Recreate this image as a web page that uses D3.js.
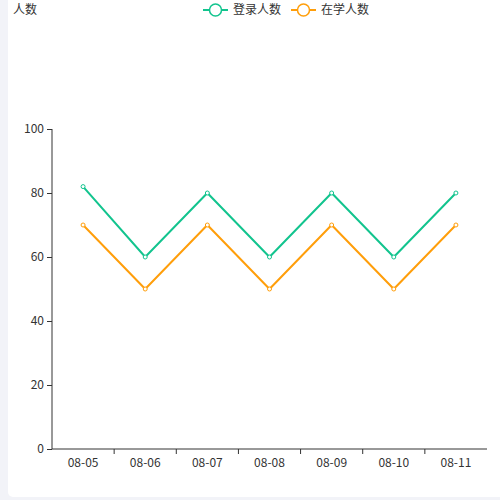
<!DOCTYPE html>
<html>
<head>
<meta charset="utf-8">
<script src="https://cdn.jsdelivr.net/npm/d3@7"></script>
<style>
  html, body { margin: 0; padding: 0; background: #f2f3f8; }
  #card { position: absolute; left: 8px; top: 0; width: 492px; height: 497px; background: #fff; border-radius: 0 0 0 5px; }
  svg { position: absolute; left: 0; top: 0; }
  text { font-family: "Noto Sans CJK SC", "Microsoft YaHei", sans-serif; }
</style>
</head>
<body>
<div id="card"></div>
<svg id="chart" width="500" height="500"></svg>
<script>
// data
const days = ['08-05', '08-06', '08-07', '08-08', '08-09', '08-10', '08-11'];
const loginCounts = [82, 60, 80, 60, 80, 60, 80];
const studyCounts = [70, 50, 70, 50, 70, 50, 70];
const seriesNames = ['登录人数', '在学人数'];
const seriesColors = ['#12c48e', '#ff9e0a'];
const yTicks = [0, 20, 40, 60, 80, 100];

const svg = d3.select('#chart');

// dimension stuff
const marginLeft = 52;
const marginRight = 13;
const marginTop = 129;
const marginBottom = 51;
const width = 500 - marginLeft - marginRight;
const height = 500 - marginTop - marginBottom;

// scales
const scaleX = d3.scaleBand().domain(days).range([0, width]);
const scaleY = d3.scaleLinear().domain([0, 100]).range([height, 0]);

const $g = svg.append('g')
  .attr('transform', `translate(${marginLeft}, ${marginTop})`);

// y axis
const yAxis = $g.append('g')
  .call(d3.axisLeft(scaleY).tickValues(yTicks).tickSize(5).tickPadding(3));
yAxis.select('.domain').attr('stroke', '#333').attr('d', `M0,${height}V0`);
yAxis.selectAll('.tick line').attr('stroke', '#333');
yAxis.selectAll('.tick text').attr('fill', '#333').style('font-size', '12px');

// x axis
const xAxis = $g.append('g')
  .attr('transform', `translate(0, ${height})`)
  .call(d3.axisBottom(scaleX).tickSize(0).tickPadding(9));
xAxis.select('.domain').attr('stroke', '#333').attr('d', `M0,0H${width}`);
xAxis.selectAll('.tick text').attr('fill', '#333').style('font-size', '12px');
// boundary ticks between categories
xAxis.selectAll('.sep')
  .data(days.slice(1))
  .enter()
  .append('line')
  .attr('class', 'sep')
  .attr('x1', d => scaleX(d))
  .attr('x2', d => scaleX(d))
  .attr('y1', 0)
  .attr('y2', 5)
  .attr('stroke', '#333');

// lines
const line = d3.line()
  .x((d, i) => scaleX(days[i]) + scaleX.bandwidth() / 2)
  .y(d => scaleY(d));

[loginCounts, studyCounts].forEach((values, k) => {
  $g.append('path')
    .datum(values)
    .attr('d', line)
    .attr('fill', 'none')
    .attr('stroke', seriesColors[k])
    .attr('stroke-width', 2);

  $g.selectAll(`.dot-${k}`)
    .data(values)
    .enter()
    .append('circle')
    .attr('class', `dot-${k}`)
    .attr('cx', (d, i) => scaleX(days[i]) + scaleX.bandwidth() / 2)
    .attr('cy', d => scaleY(d))
    .attr('r', 2)
    .attr('fill', '#fff')
    .attr('stroke', seriesColors[k])
    .attr('stroke-width', 1);
});

// y axis name
svg.append('text')
  .attr('x', 13)
  .attr('y', 14)
  .attr('fill', '#333')
  .style('font-size', '12px')
  .text('人数');

// legend
const legendX = [203, 291];
seriesNames.forEach((name, k) => {
  const $l = svg.append('g').attr('transform', `translate(${legendX[k]}, 10)`);
  $l.append('line')
    .attr('x1', 0).attr('x2', 25)
    .attr('stroke', seriesColors[k])
    .attr('stroke-width', 2);
  $l.append('circle')
    .attr('cx', 12.5).attr('r', 6)
    .attr('fill', '#fff')
    .attr('stroke', seriesColors[k])
    .attr('stroke-width', 1.5);
  $l.append('text')
    .attr('x', 30)
    .attr('y', 4)
    .attr('fill', '#333')
    .style('font-size', '12px')
    .text(name);
});
</script>
</body>
</html>
